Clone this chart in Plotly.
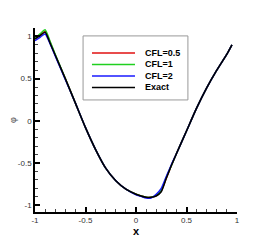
import plotly.graph_objects as go

x_vals = [-1, -0.95, -0.9, -0.85, -0.8, -0.7, -0.6, -0.5, -0.4, -0.3, -0.2, -0.1,
          0, 0.05, 0.1, 0.15, 0.2, 0.25, 0.3, 0.35, 0.4, 0.5, 0.6, 0.7, 0.8, 0.9, 0.95]
exact = [0.97, 1.01, 1.05, 0.92, 0.78, 0.50, 0.21, -0.08, -0.34, -0.56, -0.71, -0.81,
         -0.87, -0.89, -0.905, -0.905, -0.89, -0.84, -0.68, -0.53, -0.39, -0.12, 0.15, 0.39, 0.60, 0.79, 0.90]
cfl05 = [0.97, 1.02, 1.06, 0.93, 0.78, 0.50, 0.21, -0.08, -0.34, -0.56, -0.71, -0.81,
         -0.87, -0.89, -0.905, -0.905, -0.885, -0.83, -0.68, -0.53, -0.39, -0.12, 0.15, 0.39, 0.60, 0.79, 0.90]
cfl1 = [0.98, 1.03, 1.08, 0.94, 0.79, 0.50, 0.21, -0.08, -0.34, -0.56, -0.71, -0.81,
        -0.87, -0.89, -0.905, -0.905, -0.88, -0.82, -0.67, -0.53, -0.39, -0.12, 0.15, 0.39, 0.60, 0.79, 0.90]
cfl2 = [0.95, 0.99, 1.03, 0.91, 0.77, 0.49, 0.21, -0.08, -0.34, -0.56, -0.71, -0.81,
        -0.875, -0.895, -0.915, -0.915, -0.87, -0.80, -0.66, -0.52, -0.39, -0.12, 0.15, 0.39, 0.60, 0.79, 0.90]

series_names = ["CFL=0.5", "CFL=1", "CFL=2", "Exact"]
series_vals = [cfl05, cfl1, cfl2, exact]
series_colors = ["#e01010", "#20d020", "#1a1aff", "#000000"]

x_ticks = [-1, -0.5, 0, 0.5, 1]
x_ticklabels = ["-1", "-0.5", "0", "0.5", "1"]
y_ticks = [-1, -0.5, 0, 0.5, 1]
y_ticklabels = ["-1", "-0.5", "0", "0.5", "1"]

FONT = "Liberation Sans, Arial"

fig = go.Figure()
for name, vals, col in zip(series_names, series_vals, series_colors):
    fig.add_trace(go.Scatter(x=x_vals, y=vals, mode="lines", name=name, showlegend=False,
                             line=dict(color=col, width=1.5, shape="spline", smoothing=0.6)))

axis_common = dict(showgrid=False, zeroline=False, showline=True, linecolor="black",
                   linewidth=1.5, ticks="inside", ticklen=5, tickwidth=1.5, tickcolor="black",
                   tickfont=dict(family=FONT, size=8, color="#333"),
                   minor=dict(ticks="inside", ticklen=3, tickwidth=1, tickcolor="#444", dtick=0.1),
                   mirror=False, automargin=False)

fig.update_xaxes(range=[-1, 1], tickvals=x_ticks, ticktext=x_ticklabels,
                 title=dict(text="<b>x</b>", font=dict(family=FONT, size=11, color="black"), standoff=0),
                 **axis_common)
fig.update_yaxes(range=[-1.08, 1.1], tickvals=y_ticks, ticktext=y_ticklabels,
                 title=dict(text="φ", font=dict(family=FONT, size=9, color="#555"), standoff=10),
                 **axis_common)

# custom legend (box, line samples, labels) in paper coordinates
lx0, lx1, ly0, ly1 = 0.238, 0.757, 0.609, 0.957
fig.add_shape(type="rect", xref="paper", yref="paper", x0=lx0, x1=lx1, y0=ly0, y1=ly1,
              line=dict(color="#999", width=1), fillcolor="white", layer="above")
entry_y = [0.864, 0.802, 0.739, 0.677]
for name, col, yy in zip(series_names, series_colors, entry_y):
    fig.add_shape(type="line", xref="paper", yref="paper", x0=0.282, x1=0.495, y0=yy, y1=yy,
                  line=dict(color=col, width=1.5), layer="above")
    fig.add_annotation(xref="paper", yref="paper", x=0.535, y=yy, text="<b>" + name + "</b>",
                       showarrow=False, xanchor="left", yanchor="middle",
                       font=dict(family=FONT, size=9, color="black"))

fig.update_layout(
    width=270, height=240,
    margin=dict(l=27, r=41, t=20, b=36),
    plot_bgcolor="white", paper_bgcolor="white",
    showlegend=False,
)

fig.write_html("out.html")
